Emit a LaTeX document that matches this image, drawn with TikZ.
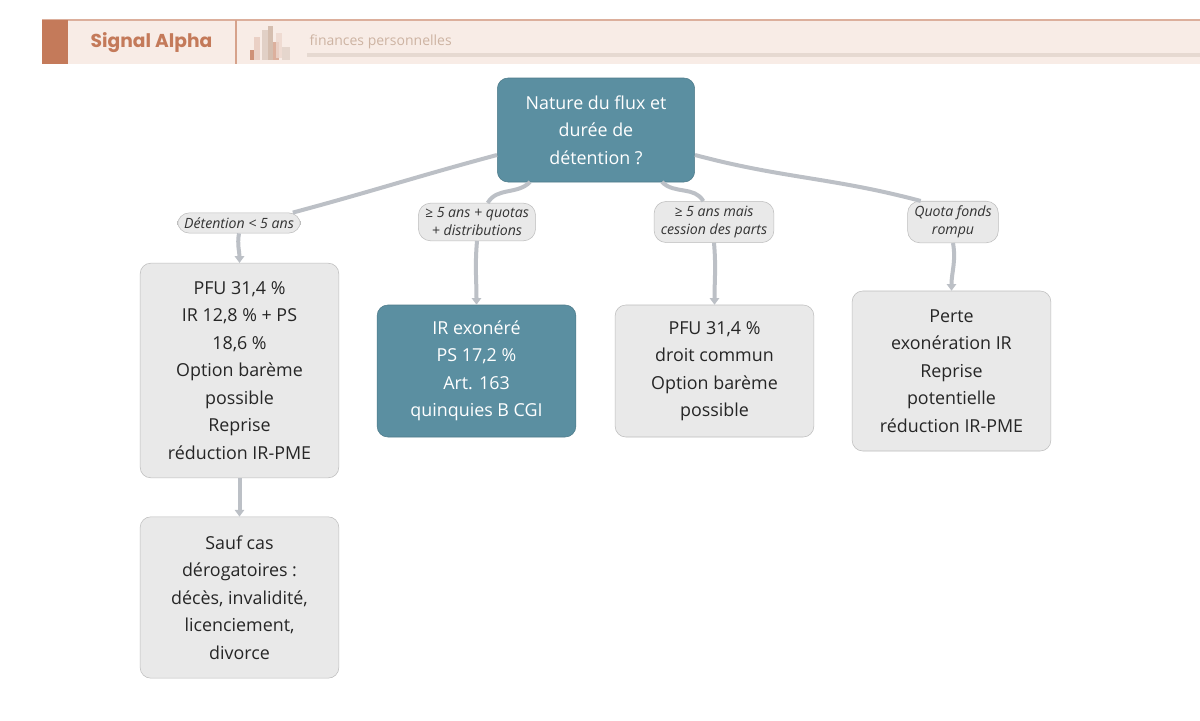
\documentclass[tikz,border=0pt]{standalone}
\usepackage{fontspec}
\setmainfont{Open Sans}
\newfontfamily\popp{Poppins}
\usetikzlibrary{arrows.meta}
\definecolor{teal1}{HTML}{5B8FA1}
\definecolor{boxg}{HTML}{E9E9E9}
\definecolor{boxd}{HTML}{BDBDBD}
\definecolor{edge}{HTML}{BCC0C6}
\definecolor{rust}{HTML}{C47A5A}
\definecolor{band}{HTML}{F8ECE6}
\definecolor{sub}{HTML}{CDB3A2}
\begin{document}
\begin{tikzpicture}[x=0.75pt,y=-0.75pt,
  box/.style={draw=boxd,fill=boxg,rounded corners=8pt,minimum width=149pt,align=center,font=\fontsize{13.4}{20.6}\selectfont,text=black!85},
  tbox/.style={box,fill=teal1,draw=teal1!85!black,text=white},
  lab/.style={draw=boxd,fill=boxg,rounded corners=9pt,align=center,font=\fontsize{10.6}{13.5}\selectfont\itshape,text=black!80,inner xsep=5pt,inner ysep=3.5pt},
  con/.style={draw=edge,line width=3pt},
  arr/.style={con,-{Triangle[length=5pt,width=7pt]}}]
\useasboundingbox (0,0) rectangle (1200,721);
\fill[white] (0,0) rectangle (1200,721);
% header
\fill[band] (42,20) rectangle (1200,64);
\draw[rust!60,line width=0.8pt] (42,20) -- (1200,20);
\fill[rust] (42,20) rectangle (68,64);
\draw[rust!70,line width=0.8pt] (236,20) -- (236,64);
\node[anchor=west,text=rust,font=\popp\bfseries\fontsize{14}{16}\selectfont] (title) at (86,43) {Signal Alpha};
\fill[sub!50] (307,53) rectangle (1200,57);
\node[anchor=west,text=sub,font=\fontsize{10.5}{12}\selectfont] (subt) at (305,42) {finances personnelles};
\begin{scope}[opacity=0.8]
\fill[rust!40] (254,37) rectangle (260,60);
\fill[sub!70] (262,30) rectangle (268,60);
\fill[sub] (268,26) rectangle (273,60);
\fill[rust!70] (273,42) rectangle (279,60);
\fill[rust!30] (276,33) rectangle (282,58);
\fill[sub!60] (282,47) rectangle (290,60);
\fill[rust] (250,50) rectangle (254,60);
\end{scope}
% nodes
\node[tbox,minimum width=148pt,minimum height=78pt] (root) at (596,130) {Nature du flux et\\durée de\\détention ?};
\node[lab] (l1) at (239,223) {Détention < 5 ans};
\node[lab] (l2) at (477,222) {≥ 5 ans + quotas\\+ distributions};
\node[lab] (l3) at (714,222) {≥ 5 ans mais\\cession des parts};
\node[lab] (l4) at (953,222) {Quota fonds\\rompu};
\node[box,minimum height=161pt] (a) at (239.5,370.5) {PFU 31,4 \%\\IR 12,8 \% + PS\\18,6 \%\\Option barème\\possible\\Reprise\\réduction IR-PME};
\node[tbox,minimum height=99pt] (b) at (476.5,371) {IR exonéré\\PS 17,2 \%\\Art. 163\\quinquies B CGI};
\node[box,minimum height=99pt] (c) at (714.5,371) {PFU 31,4 \%\\droit commun\\Option barème\\possible};
\node[box,minimum height=120pt] (d) at (951.5,371) {Perte\\exonération IR\\Reprise\\potentielle\\réduction IR-PME};
\node[box,minimum height=121pt] (e) at (239.5,597.5) {Sauf cas\\dérogatoires :\\décès, invalidité,\\licenciement,\\divorce};
% connectors
\coordinate (r1) at (497,155);
\coordinate (r4) at (695,155);
\coordinate (r2) at (530,182);
\coordinate (r3) at (662,182);
\draw[con] (r1) to[out=195,in=15] ([xshift=-6pt]l1.north east);
\draw[con] (r2) to[out=225,in=60] ([xshift=8pt]l2.north);
\draw[con] (r3) to[out=-45,in=120] ([xshift=-8pt]l3.north);
\draw[con] (r4) to[out=-15,in=165] ([xshift=10pt]l4.north west);
\draw[arr] (l1.south) to[out=-100,in=90] (a.north);
\draw[arr] (l2.south) to[out=-95,in=90] (b.north);
\draw[arr] (l3.south) to[out=-85,in=90] (c.north);
\draw[arr] (l4.south) to[out=-80,in=90] (d.north);
\draw[arr] (a.south) -- (e.north);
\end{tikzpicture}
\end{document}
